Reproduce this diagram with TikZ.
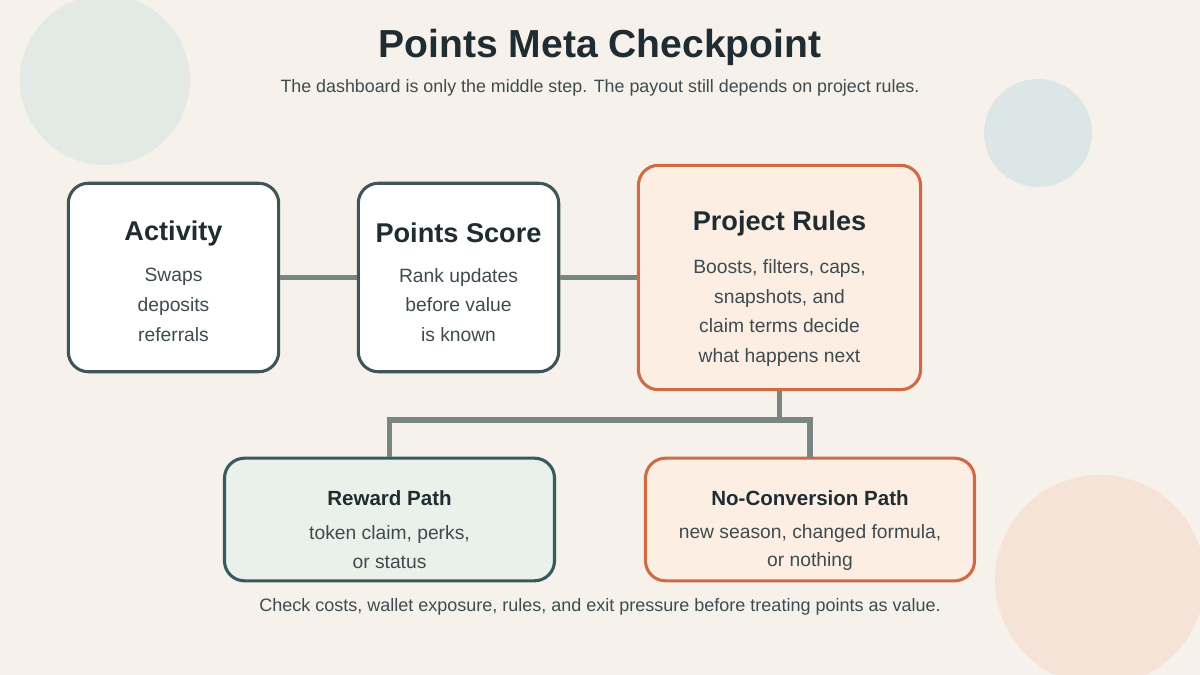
\documentclass[tikz,border=0pt]{standalone}
\usepackage{fontspec}
\setmainfont{Liberation Sans}
\definecolor{bgc}{HTML}{F6F1EA}
\definecolor{ink}{HTML}{1F2D33}
\definecolor{soft}{HTML}{3E4B4F}
\definecolor{slate}{HTML}{3F5558}
\definecolor{rust}{HTML}{D06A45}
\definecolor{peach}{HTML}{FDEEE4}
\definecolor{mint}{HTML}{EAF0EA}
\definecolor{wire}{HTML}{7A8683}
\definecolor{dotA}{HTML}{E3EAE5}
\definecolor{dotB}{HTML}{DCE6E6}
\definecolor{dotC}{HTML}{F6E3D8}
\tikzset{
  box/.style={draw, rounded corners=20*0.709pt, line width=2.2pt, inner sep=0pt},
  head/.style={font=\bfseries\fontsize{19.3}{22}\selectfont, text=ink},
  small head/.style={font=\bfseries\fontsize{14.6}{17}\selectfont, text=ink},
  body/.style={font=\fontsize{13.7}{21.2}\selectfont, text=soft, align=center},
  link/.style={draw=wire, line width=3.6pt}
}
\begin{document}
\begin{tikzpicture}[x=0.025cm, y=-0.025cm]
		\fill[bgc] (0,0) rectangle (1200,675);
		\useasboundingbox (0,0) rectangle (1200,675);
		% decoration
		\fill[dotA] (105,80) circle (85);
		\fill[dotB] (1038,133) circle (54);
		\fill[dotC] (1100,580) circle (105);
		% heading
		\node[font=\bfseries\fontsize{27.8}{32}\selectfont, text=ink] (title) at (600,47) {Points Meta Checkpoint};
		\node[font=\fontsize{12.7}{15}\selectfont, text=soft] (sub) at (600,88) {The dashboard is only the middle step. The payout still depends on project rules.};
		% boxes
		\node[box, draw=slate, fill=white, minimum width=211*0.709pt, minimum height=189*0.709pt] (act) at (173.5,277.5) {};
		\node[box, draw=slate, fill=white, minimum width=201*0.709pt, minimum height=189*0.709pt] (score) at (458.5,277.5) {};
		\node[box, draw=rust, fill=peach, minimum width=283*0.709pt, minimum height=225*0.709pt] (rules) at (779.5,277.5) {};
		\node[box, draw=slate!85!teal, fill=mint, minimum width=331*0.709pt, minimum height=123*0.709pt] (reward) at (389.5,519.5) {};
		\node[box, draw=rust, fill=peach, minimum width=330*0.709pt, minimum height=123*0.709pt] (noconv) at (810,519.5) {};
		% connectors
		\draw[link] (act.east) -- (score.west);
		\draw[link] (score.east) -- (rules.west);
		\coordinate (split) at (779.5,420);
		\draw[link] (rules.south) -- (split);
		\draw[link] (reward.north) |- (split) -| (noconv.north);
		% texts
		\node[head] (actT) at (173.5,233) {Activity};
		\node[body] (actB) at (173.5,305) {Swaps\\deposits\\referrals};
		\node[head] (scoreT) at (458.5,233) {Points Score};
		\node[body] (scoreB) at (458.5,305) {Rank updates\\before value\\is known};
		\node[head] (rulesT) at (779.5,223) {Project Rules};
		\node[body] (rulesB) at (779.5,313) {Boosts, filters, caps,\\snapshots, and\\claim terms decide\\what happens next};
		\node[small head] (rewardT) at (389.5,498) {Reward Path};
		\node[body, font=\fontsize{13.7}{20.5}\selectfont] (rewardB) at (389.5,547.5) {token claim, perks,\\or status};
		\node[small head] (noconvT) at (810,498) {No-Conversion Path};
		\node[body, font=\fontsize{13.7}{20.5}\selectfont] (noconvB) at (810,547.5) {new season, changed formula,\\or nothing};
		\node[font=\fontsize{12.8}{15}\selectfont, text=soft] (foot) at (600,607) {Check costs, wallet exposure, rules, and exit pressure before treating points as value.};
\end{tikzpicture}
\end{document}
